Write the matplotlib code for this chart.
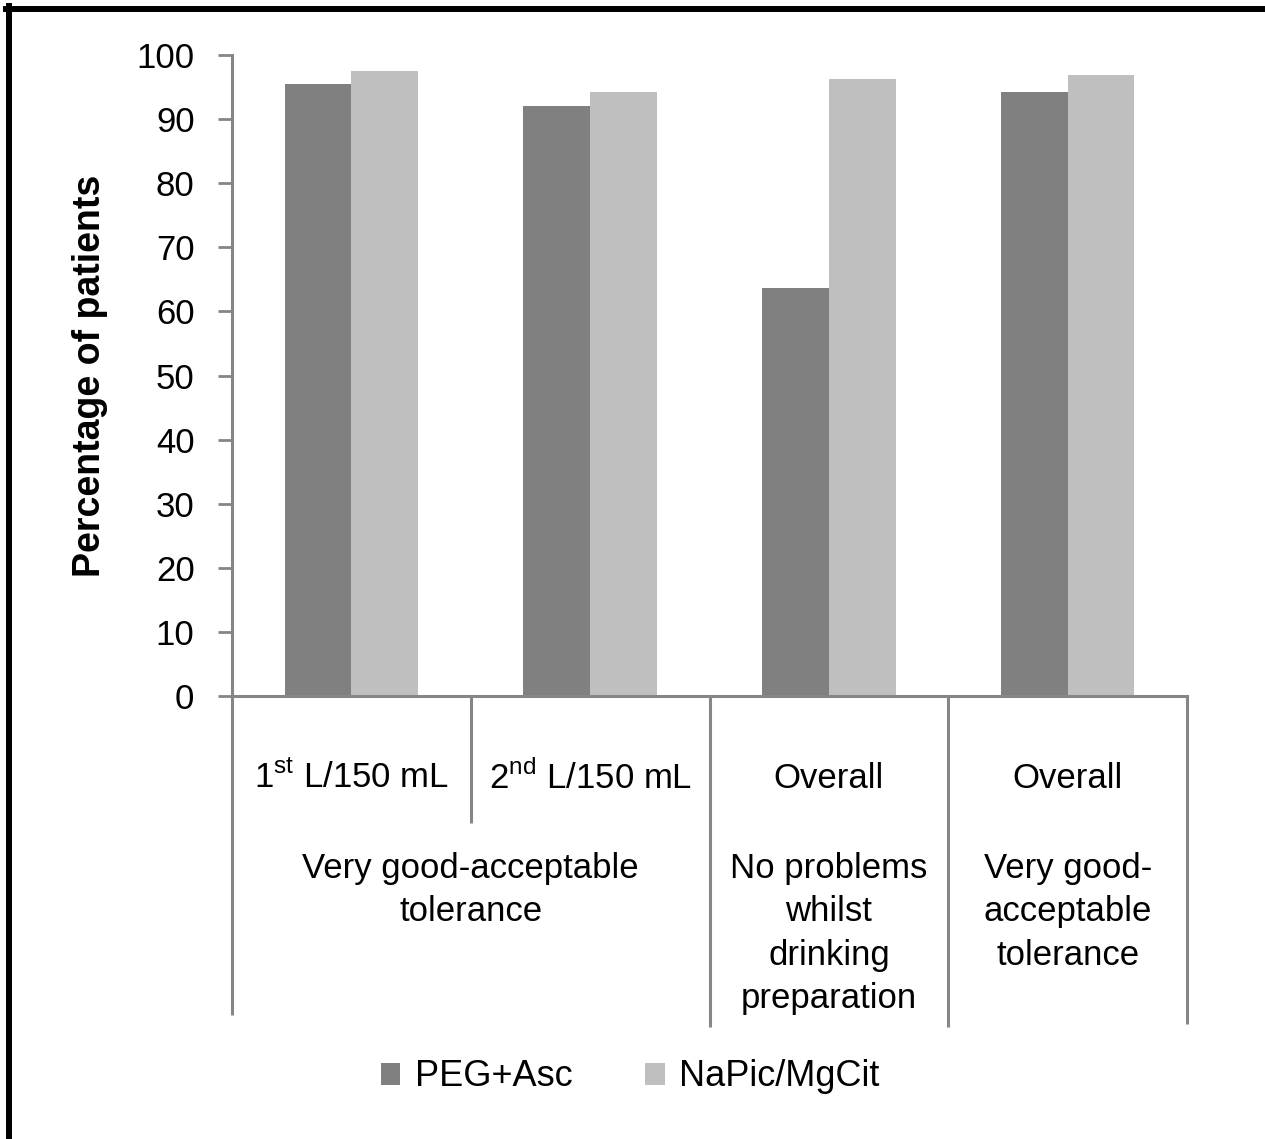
import matplotlib
matplotlib.use('Agg')
import matplotlib.pyplot as plt
import numpy as np

plt.rcParams['font.family'] = ['Liberation Sans', 'DejaVu Sans']
plt.rcParams['mathtext.fontset'] = 'custom'
plt.rcParams['mathtext.rm'] = 'Liberation Sans'

series = ['PEG+Asc', 'NaPic/MgCit']
peg_asc = [95.5, 92.0, 63.6, 94.2]
napic_mgcit = [97.5, 94.3, 96.2, 96.9]
sub_labels = ['1$^{\\mathrm{st}}$ L/150 mL', '2$^{\\mathrm{nd}}$ L/150 mL', 'Overall', 'Overall']
group_labels = ['Very good-acceptable\ntolerance',
                'No problems\nwhilst\ndrinking\npreparation',
                'Very good-\nacceptable\ntolerance']
group_spans = [(0, 2), (2, 3), (3, 4)]

dark = '#808080'
light = '#bfbfbf'
axis_col = '#868686'

fig = plt.figure(figsize=(12.65, 11.39), dpi=100)
ax = fig.add_axes([232/1265, 1 - 696/1139, 955/1265, 641/1139])

x = np.arange(len(peg_asc)) + 0.5
w = 0.28
ax.bar(x - w/2, peg_asc, w, color=dark, label=series[0])
ax.bar(x + w/2, napic_mgcit, w, color=light, label=series[1])

ax.set_xlim(0, 4)
ax.set_ylim(0, 100)
ax.set_yticks(range(0, 101, 10))
ax.set_xticks([])
ax.tick_params(axis='y', direction='out', length=10, width=2, color=axis_col,
               labelsize=25, pad=17)
for s in ['top', 'right']:
    ax.spines[s].set_visible(False)
for s in ['left', 'bottom']:
    ax.spines[s].set_color(axis_col)
    ax.spines[s].set_linewidth(2.2)
ax.set_ylabel('Percentage of patients', fontsize=27, fontweight='bold')
ax.yaxis.set_label_coords(-0.13, 0.5)

tr = ax.get_xaxis_transform()
# separators below the axis
sep = [(0, -0.497), (1, -0.198), (2, -0.516), (3, -0.516), (4, -0.512)]
for xs, yend in sep:
    ax.plot([xs, xs], [0, yend], transform=tr, color=axis_col, lw=2.2,
            clip_on=False, solid_capstyle='butt')

for i, lab in enumerate(sub_labels):
    ax.text(x[i], -0.128, lab, transform=tr, ha='center', va='center', fontsize=25)
for (a, b), lab in zip(group_spans, group_labels):
    ax.text((a + b) / 2, -0.243, lab, transform=tr, ha='center', va='top',
            fontsize=25, linespacing=1.4)

fig.legend(loc='center', bbox_to_anchor=(630/1265, 1 - 1077/1139), ncol=2,
           frameon=False, fontsize=26, handlelength=0.55, handleheight=0.55,
           handletextpad=0.4, columnspacing=2.0)

# black frame on top and left
fig.add_artist(plt.Line2D([6/1265, 1], [1 - 9/1139, 1 - 9/1139], color='black', lw=4.3,
                          transform=fig.transFigure))
fig.add_artist(plt.Line2D([9/1265, 9/1265], [0, 1 - 6/1139], color='black', lw=4.3,
                          transform=fig.transFigure))

fig.savefig('out.png', dpi=100)
